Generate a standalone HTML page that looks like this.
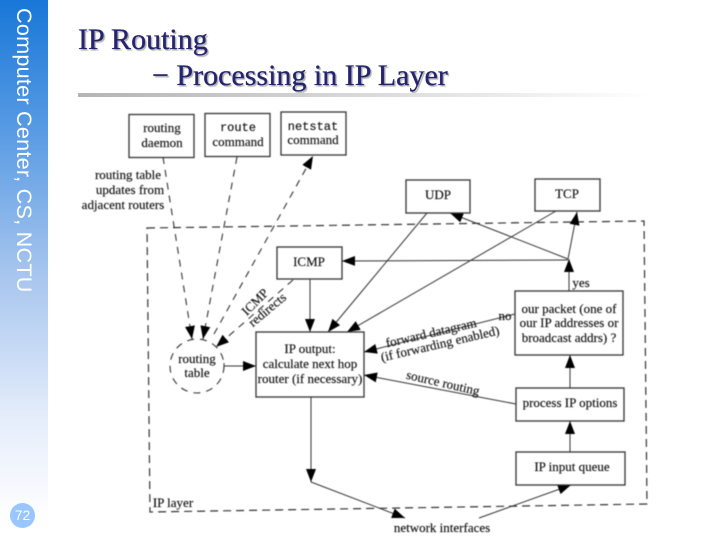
<!DOCTYPE html>
<html><head><meta charset="utf-8"><style>
html,body{margin:0;padding:0;background:#fff}
#p{position:relative;width:720px;height:540px;overflow:hidden;background:#fff}
#s{position:absolute;left:0;top:0;width:48px;height:540px;background:linear-gradient(#1877d8 0,#5a9ce4 25%,#a5c4ee 50%,#e6eefb 78%,#f6f8fe 90%,#fff 96%)}
#v{position:absolute;left:37px;top:8px;transform-origin:0 0;transform:rotate(90deg);font:21.6px "Liberation Sans",sans-serif;color:#fff;white-space:nowrap;letter-spacing:.25px}
.t{position:absolute;font:30px "Liberation Serif",serif;color:#24246f;text-shadow:1.5px 1.5px 1px #aaa;white-space:nowrap;-webkit-text-stroke:.3px #24246f}
#b{position:absolute;left:78px;top:93px;width:575px;height:4px;background:linear-gradient(90deg,#b4b4b4,#fff)}
#c{position:absolute;left:10px;top:503px;width:25px;height:25px;border-radius:50%;background:#99c6ff;color:#fff;font:14px/25px "Liberation Sans",sans-serif;text-align:center}
svg{position:absolute;left:0;top:0;filter:blur(.45px)}
svg text{font-family:"Liberation Serif",serif;font-size:13px;fill:#111;text-anchor:middle;stroke:#111;stroke-width:.15px}
.box{fill:#fff;stroke:#333;stroke-width:1.3}
.l{stroke:#333;stroke-width:1;fill:none}
.d{stroke:#333;stroke-width:1.1;fill:none;stroke-dasharray:7 6}
.o{stroke:#333;stroke-width:1.2;fill:none;stroke-dasharray:8 5}
</style></head><body><div id="p">
<div id="s"></div>
<div id="v">Computer Center, CS, NCTU</div>
<div id="c">72</div>
<div class="t" style="left:78px;top:23px">IP Routing</div>
<div class="t" style="left:152px;top:59px">− Processing in IP Layer</div>
<div id="b"></div>
<svg width="720" height="540" viewBox="0 0 720 540">
<defs><marker id="a" markerWidth="14" markerHeight="11" refX="13" refY="5" orient="auto" markerUnits="userSpaceOnUse"><path d="M0 0L13 5L0 10Z" fill="#000"/></marker></defs>
<path class="o" d="M147 228L644 221L647 504L150 512Z"/>
<path class="d" d="M163 157L192 339" marker-end="url(#a)"/>
<path class="d" d="M237 157L203 339" marker-end="url(#a)"/>
<path class="d" d="M214 334L313 156" marker-end="url(#a)"/>
<path class="d" d="M293 280L216 347" marker-end="url(#a)"/>
<circle cx="197" cy="366" r="27" fill="#fff" stroke="#333" stroke-width="1.1" stroke-dasharray="7 6"/>
<path class="l" d="M310 279L310 332" marker-end="url(#a)"/>
<path class="l" d="M427 213L328 332" marker-end="url(#a)"/>
<path class="l" d="M556 211L347 332" marker-end="url(#a)"/>
<path class="l" d="M568 260L342 261" marker-end="url(#a)"/>
<path class="l" d="M569 291L569 259" marker-end="url(#a)"/>
<path class="l" d="M568 259L577 212" marker-end="url(#a)"/>
<path class="l" d="M568 259L450 213" marker-end="url(#a)"/>
<path class="l" d="M515 314L364 352" marker-end="url(#a)"/>
<path class="l" d="M516 404L364 375" marker-end="url(#a)"/>
<path class="l" d="M224 366L256 366" marker-end="url(#a)"/><path class="l" d="M224 363V369"/>
<path class="l" d="M311 397L311 482" marker-end="url(#a)"/>
<path class="l" d="M311 482L405 518" marker-end="url(#a)"/>
<path class="l" d="M479 518L571 485" marker-end="url(#a)"/>
<path class="l" d="M570 388L570 355" marker-end="url(#a)"/>
<path class="l" d="M570 452L570 421" marker-end="url(#a)"/>
<rect class="box" x="129" y="114.500" width="65" height="43"/>
<rect class="box" x="205" y="113.500" width="65" height="43"/>
<rect class="box" x="281" y="112" width="65" height="43"/>
<rect class="box" x="406" y="180" width="64" height="33"/>
<rect class="box" x="535" y="179" width="65" height="32"/>
<rect class="box" x="277" y="247" width="65" height="32"/>
<rect class="box" x="515" y="291" width="108" height="64"/>
<rect class="box" x="516" y="388" width="108" height="33"/>
<rect class="box" x="516" y="452" width="109" height="33"/>
<rect class="box" x="256" y="332" width="108" height="65"/>
<text x="162" y="132">routing</text><text x="162" y="147">daemon</text>
<text x="238" y="131" style="font-family:'Liberation Mono',monospace;font-size:12px">route</text><text x="238" y="146">command</text>
<text x="313" y="130" style="font-family:'Liberation Mono',monospace;font-size:12px">netstat</text><text x="313" y="144">command</text>
<text x="438" y="199">UDP</text><text x="567" y="198">TCP</text><text x="309" y="266">ICMP</text>
<text x="569" y="313">our packet (one of</text>
<text x="569" y="327">our IP addresses or</text>
<text x="569" y="342">broadcast addrs) ?</text>
<text x="570" y="407">process IP options</text>
<text x="572" y="471">IP input queue</text>
<text x="310" y="353">IP output:</text>
<text x="310" y="368">calculate next hop</text>
<text x="310" y="383">router (if necessary)</text>
<text x="197" y="363">routing</text><text x="197" y="377">table</text>
<text x="128" y="179">routing table</text><text x="130" y="194">updates from</text><text x="123" y="209">adjacent routers</text>
<text x="581" y="287">yes</text><text x="505" y="320">no</text>
<text x="173" y="507">IP layer</text>
<text x="442" y="532">network interfaces</text>
<text transform="translate(432 337) rotate(-13)">forward datagram</text>
<text transform="translate(441 348) rotate(-13)">(if forwarding enabled)</text>
<text transform="translate(442 387) rotate(13)">source routing</text>
<text transform="translate(258 305) rotate(-45)">ICMP</text>
<text transform="translate(270 313) rotate(-40)">redirects</text>
</svg>
</div></body></html>
